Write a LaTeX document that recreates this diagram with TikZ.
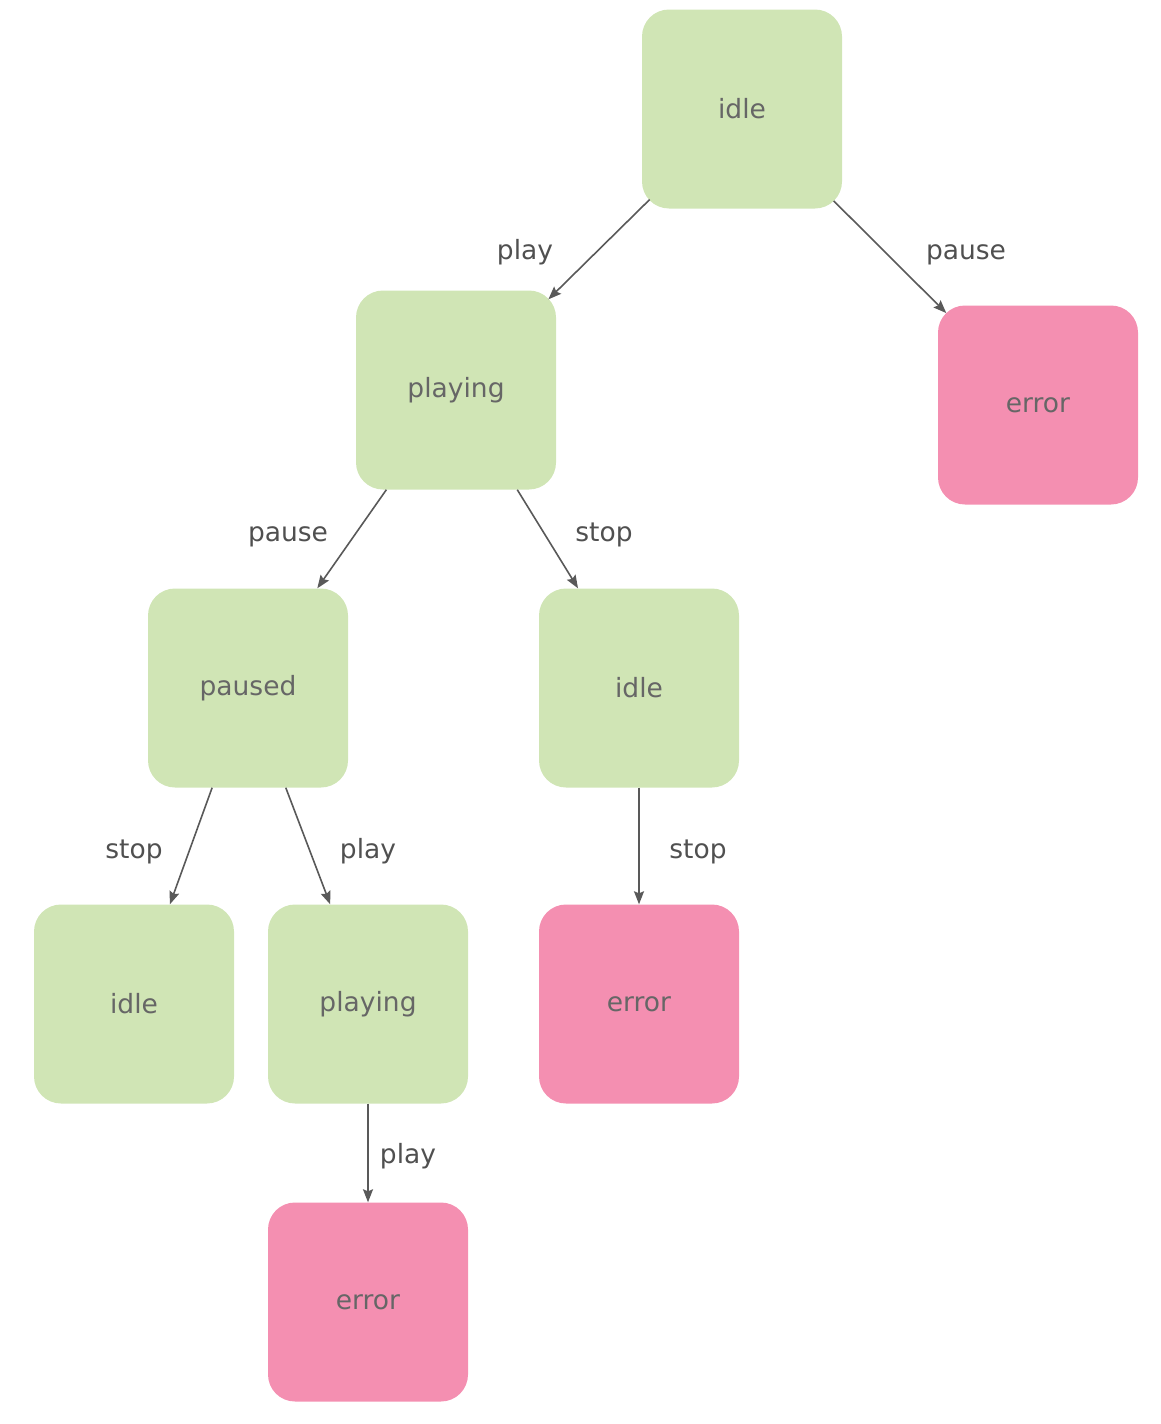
\documentclass[tikz,border=0pt]{standalone}
\usepackage{fontspec}
\setmainfont{DejaVu Sans}
\usetikzlibrary{arrows.meta}
\definecolor{okfill}{HTML}{D0E5B5}
\definecolor{errfill}{HTML}{F48FB1}
\definecolor{edgecol}{HTML}{595959}
\definecolor{lblcol}{HTML}{505050}
\definecolor{nodetext}{HTML}{666666}
\tikzset{
  state/.style={rectangle, rounded corners=27pt, minimum width=200pt, minimum height=199pt,
    inner sep=0pt, text=nodetext, font=\fontsize{26.5}{30}\selectfont},
  okstate/.style={state, fill=okfill},
  errstate/.style={state, fill=errfill},
  trans/.style={draw=edgecol, line width=1.6pt, -{Stealth[length=13pt,width=10pt,inset=2pt]}},
  corner/.style={shorten <=-11pt, shorten >=-11pt},
  lbl/.style={text=lblcol, anchor=base, inner sep=0pt, font=\fontsize{26.5}{30}\selectfont}
}
\begin{document}
\begin{tikzpicture}[x=1pt,y=-1pt]
\useasboundingbox (0,0) rectangle (1160,1424);
\node[okstate] (idle0) at (742,109) {idle};
\node[okstate] (play1) at (456,390) {playing};
\node[errstate] (err1) at (1038,405) {error};
\node[okstate] (paused2) at (248,688) {paused};
\node[okstate] (idle2) at (639,688) {idle};
\node[okstate] (idle3) at (134,1004) {idle};
\node[okstate] (play3) at (368,1004) {playing};
\node[errstate] (err3) at (639,1004) {error};
\node[errstate] (err4) at (368,1302) {error};

\draw[trans,corner] (idle0) -- (play1);
\draw[trans,corner] (idle0) -- (err1);
\draw[trans] (play1) -- (paused2);
\draw[trans] (play1) -- (idle2);
\draw[trans] (paused2) -- (idle3);
\draw[trans] (paused2) -- (play3);
\draw[trans] (idle2) -- (err3);
\draw[trans] (play3) -- (err4);

\node[lbl] (l1) at (525,259) {play};
\node[lbl] (l2) at (966,259) {pause};
\node[lbl] (l3) at (288,541) {pause};
\node[lbl] (l4) at (604,541) {stop};
\node[lbl] (l5) at (134,858) {stop};
\node[lbl] (l6) at (368,858) {play};
\node[lbl] (l7) at (698,858) {stop};
\node[lbl] (l8) at (408,1163) {play};
\end{tikzpicture}
\end{document}
